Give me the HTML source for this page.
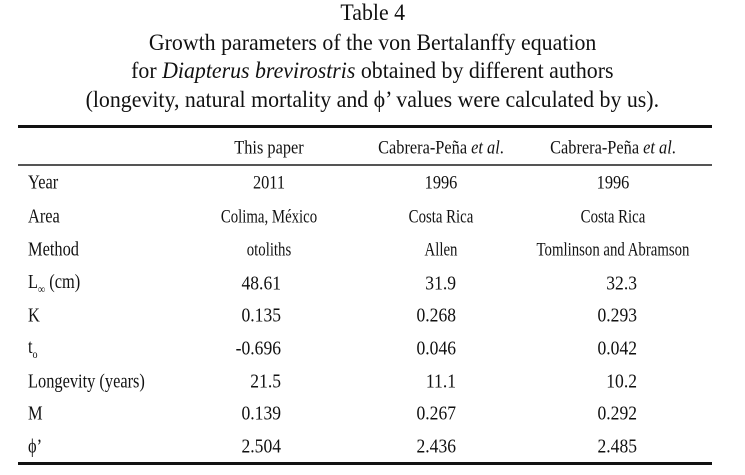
<!DOCTYPE html>
<html><head><meta charset="utf-8"><style>
body{margin:0;background:#fff;width:745px;height:475px;overflow:hidden;font-family:"Liberation Serif",serif;color:#111;}
.t{position:absolute;white-space:nowrap;line-height:1;}
.title{font-size:23.5px;left:0;width:745px;text-align:center;}
.title span{display:inline-block;transform:scaleX(0.93);}
.c{font-size:19px;transform:translate(-50%,-50%) scaleX(0.78);}
.h{font-size:19px;transform:translate(-50%,-50%) scaleX(0.86);}
.r{font-size:19.5px;transform:translate(-100%,-50%) scaleX(0.9);transform-origin:right center;}
.l{font-size:19.5px;transform:translateY(-50%) scaleX(0.84);transform-origin:left center;}
.rule{position:absolute;left:18px;width:694px;background:#111;}
</style></head><body>
<div class="t title" style="top:2px"><span>Table 4</span></div>
<div class="t title" style="top:32px"><span>Growth parameters of the von Bertalanffy equation</span></div>
<div class="t title" style="top:60px"><span>for <i>Diapterus brevirostris</i> obtained by different authors</span></div>
<div class="t title" style="top:89px"><span>(longevity, natural mortality and &#981;’ values were calculated by us).</span></div>
<div class="rule" style="top:125px;height:3px"></div>
<div class="rule" style="top:164px;height:1.5px;background:#555"></div>
<div class="rule" style="top:462px;height:3px"></div>
<div id="tbl"></div>
<script>
const headers=["This paper","Cabrera-Peña <i>et al</i>.","Cabrera-Peña <i>et al</i>."];
const rowLabels=["Year","Area","Method","L<sub style='font-size:12px'>&#8734;</sub> (cm)","K","t<sub style='font-size:12px'>o</sub>","Longevity (years)","M","&#981;’"];
const col1=["2011","Colima, México","otoliths","48.61","0.135","-0.696","21.5","0.139","2.504"];
const col2=["1996","Costa Rica","Allen","31.9","0.268","0.046","11.1","0.267","2.436"];
const col3=["1996","Costa Rica","Tomlinson and Abramson","32.3","0.293","0.042","10.2","0.292","2.485"];
const rowY=[183,217,250,284,316,349,382,414,447];
const colC=[269,441,613], colR=[281,456,637];
const root=document.getElementById('tbl');
function add(cls,x,y,html,name){
  const d=document.createElement('div');
  d.className='t '+cls;d.style.left=x+'px';d.style.top=y+'px';d.innerHTML=html;
  
  
  root.appendChild(d);
}
headers.forEach((h,i)=>add('h',colC[i],148,h,'column-header'));
const cols=[col1,col2,col3];
rowLabels.forEach((lab,r)=>{
  add('l',28,rowY[r],lab,'row-label');
  cols.forEach((col,i)=>{
    if(r===0) add('h',colC[i],rowY[r],col[r],'table-cell');
    else if(r<3) add('c',colC[i],rowY[r],col[r],'table-cell');
    else add('r',colR[i],rowY[r],col[r],'table-cell');
  });
});
</script>
</body></html>
